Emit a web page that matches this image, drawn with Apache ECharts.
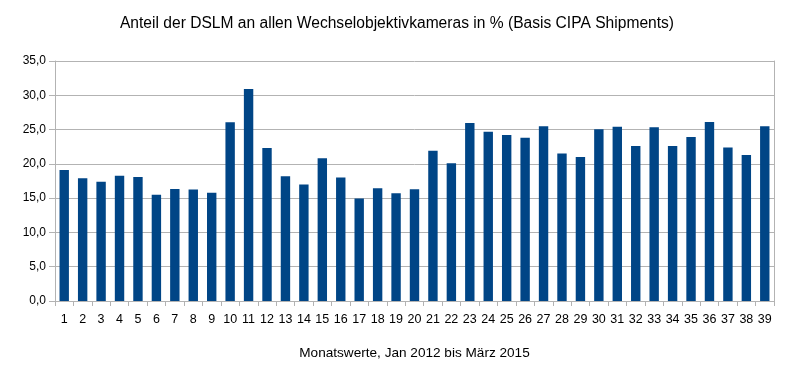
<!DOCTYPE html>
<html><head><meta charset="utf-8">
<script src="https://cdn.jsdelivr.net/npm/echarts@6/dist/echarts.min.js"></script>
<style>html,body{margin:0;padding:0;background:#fff}#c{width:794px;height:372px}</style>
</head><body><div id="c"></div>
<script>
const title = 'Anteil der DSLM an allen Wechselobjektivkameras in % (Basis CIPA Shipments)';
const xAxisTitle = 'Monatswerte, Jan 2012 bis März 2015';
const categories = ['1','2','3','4','5','6','7','8','9','10','11','12','13','14','15','16','17','18','19','20','21','22','23','24','25','26','27','28','29','30','31','32','33','34','35','36','37','38','39'];
const values = [19.1,17.9,17.4,18.25,18.1,15.5,16.35,16.25,15.8,26.05,30.9,22.3,18.2,17.0,20.8,18.0,14.95,16.45,15.7,16.3,21.9,20.1,25.95,24.7,24.2,23.8,25.5,21.5,21.0,25.05,25.4,22.6,25.35,22.6,23.9,26.1,22.4,21.3,25.5];

const chart = echarts.init(document.getElementById('c'), null, {renderer:'canvas'});
const grey = '#b3b3b3';
chart.setOption({
  animation:false,
  textStyle:{fontFamily:'Liberation Sans, Arial, sans-serif'},
  title:{text:title,left:'center',top:11,textStyle:{fontSize:15.6,fontWeight:'normal',color:'#000',fontFamily:'Liberation Sans, Arial, sans-serif'}},
  grid:{left:55,right:20,top:61,bottom:71,containLabel:false},
  xAxis:{type:'category',data:categories,
    name:xAxisTitle,nameLocation:'middle',nameGap:45,
    nameTextStyle:{fontSize:13.6,color:'#000'},
    axisLine:{lineStyle:{color:grey}},
    axisTick:{show:true,alignWithLabel:false,length:5,lineStyle:{color:grey}},
    axisLabel:{color:'#000',fontSize:12.5,margin:12,interval:0}},
  yAxis:[{type:'value',min:0,max:35,interval:5,
    axisLine:{show:true,lineStyle:{color:grey}},
    axisTick:{show:true,length:6,lineStyle:{color:grey}},
    splitLine:{lineStyle:{color:grey}},
    axisLabel:{color:'#000',fontSize:12,margin:9,formatter:v=>v.toFixed(1).replace('.',',')}},
    {type:'value',min:0,max:35,interval:5,position:'right',
    axisLine:{show:true,lineStyle:{color:grey}},axisTick:{show:false},axisLabel:{show:false},splitLine:{show:false}}],
  series:[{type:'bar',data:values,barWidth:'51%',itemStyle:{color:'#004586'}}]
});
</script></body></html>
